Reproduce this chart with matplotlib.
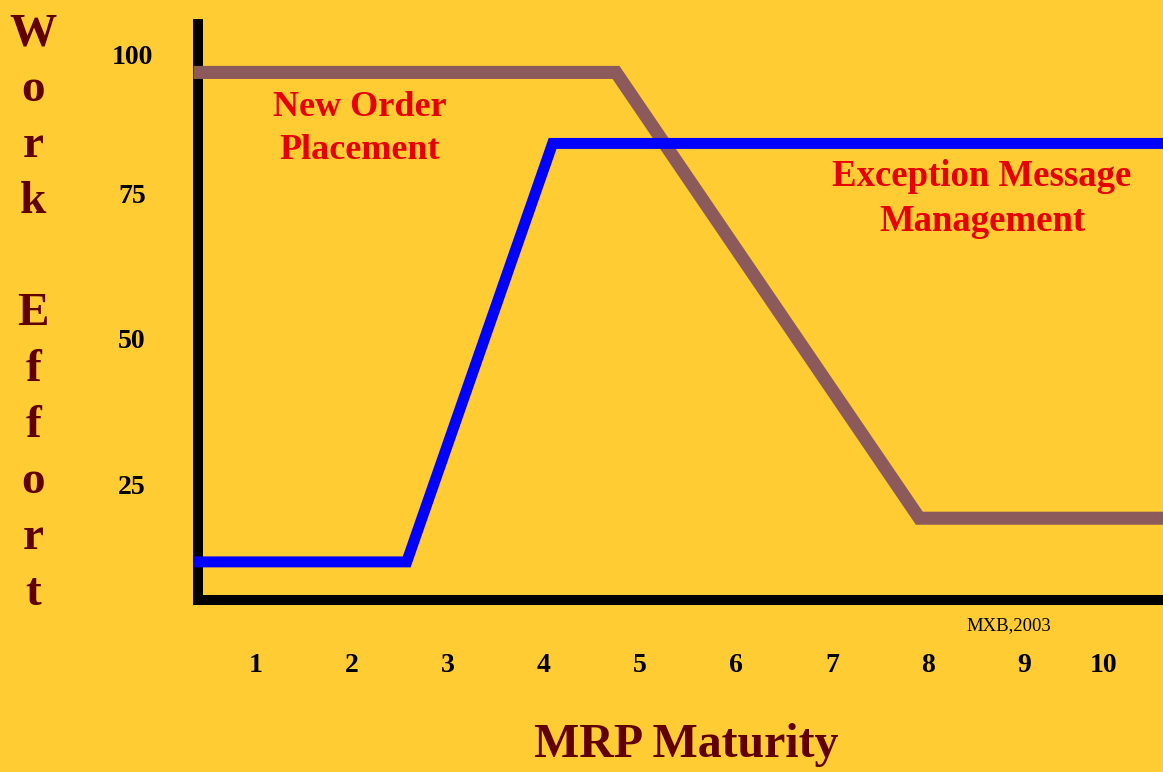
import matplotlib
matplotlib.use("Agg")
import matplotlib.pyplot as plt
import matplotlib.transforms as mtransforms

BG = "#FFCC33"
DARK_RED = "#600000"
RED = "#E60000"

# series (x = maturity, y = work effort)
order_x = [0.35, 4.75, 7.91, 10.6]
order_y = [95.8, 95.8, 19.2, 19.2]
exception_x = [0.35, 2.57, 4.09, 10.6]
exception_y = [11.7, 11.7, 83.6, 83.6]

x_ticks = [1, 2, 3, 4, 5, 6, 7, 8, 9, 10]
y_ticks = [25, 50, 75, 100]
y_title = ["W", "o", "r", "k", "", "E", "f", "f", "o", "r", "t"]

plt.rcParams["font.family"] = ["Liberation Serif", "DejaVu Serif"]

W, H = 1163, 772
fig = plt.figure(figsize=(W / 100, H / 100), dpi=100, facecolor=BG)
ax = fig.add_axes([198 / W, 1 - 600 / H, (W - 198) / W, (600 - 19) / H])
ax.set_facecolor(BG)

ax.plot(order_x, order_y, color="#8C5A5A", lw=9.4, solid_joinstyle="miter",
        solid_capstyle="butt", clip_on=False, zorder=4)
ax.plot(exception_x, exception_y, color="#0000FF", lw=7.9, solid_joinstyle="miter",
        solid_capstyle="butt", clip_on=False, zorder=4)

ax.set_xlim(0.396, 10.448)
ax.set_ylim(5.15, 104.98)

for s in ["top", "right"]:
    ax.spines[s].set_visible(False)
for s in ["left", "bottom"]:
    ax.spines[s].set_linewidth(7.2)
    ax.spines[s].set_color("black")
ax.spines["left"].set_capstyle("butt")
ax.spines["bottom"].set_capstyle("projecting")

ax.set_xticks(x_ticks)
ax.set_xticklabels([str(t) for t in x_ticks])
ax.set_yticks(y_ticks)
ax.set_yticklabels([str(t) for t in y_ticks])
ax.tick_params(axis="x", length=0, pad=38, labelsize=20)
ax.tick_params(axis="y", length=0, pad=47.5, labelsize=20)
for lab in ax.get_xticklabels() + ax.get_yticklabels():
    lab.set_fontweight("bold")
for lab in ax.get_yticklabels():
    lab.set_horizontalalignment("center")

# small nudges of two labels, as in the original
last = ax.get_xticklabels()[-1]
last.set_transform(last.get_transform() + mtransforms.ScaledTranslation(-0.16, 0, fig.dpi_scale_trans))
top = ax.get_yticklabels()[-1]
top.set_transform(top.get_transform() + mtransforms.ScaledTranslation(0, -0.07, fig.dpi_scale_trans))


def ftext(px, py, s, **kw):
    fig.text(px / W, 1 - py / H, s, **kw)


ftext(360, 129, "New Order\nPlacement", color=RED, fontsize=26, fontweight="bold",
      ha="center", va="center", linespacing=1.4)
ftext(982, 199, "Exception Message\nManagement", color=RED, fontsize=26.5, fontweight="bold",
      ha="center", va="center", linespacing=1.4)
ftext(1009, 626, "MXB,2003", fontsize=13.5, ha="center", va="center")
ftext(686, 745, "MRP Maturity", color=DARK_RED, fontsize=34.5, fontweight="bold",
      ha="center", va="center")

# stacked letters of the y title
for i, ch in enumerate(y_title):
    if ch:
        ftext(33, 45 + 56 * i, ch, color=DARK_RED, fontsize=34, fontweight="bold",
              ha="center", va="baseline")

fig.savefig("out.png", dpi=100, facecolor=BG)
